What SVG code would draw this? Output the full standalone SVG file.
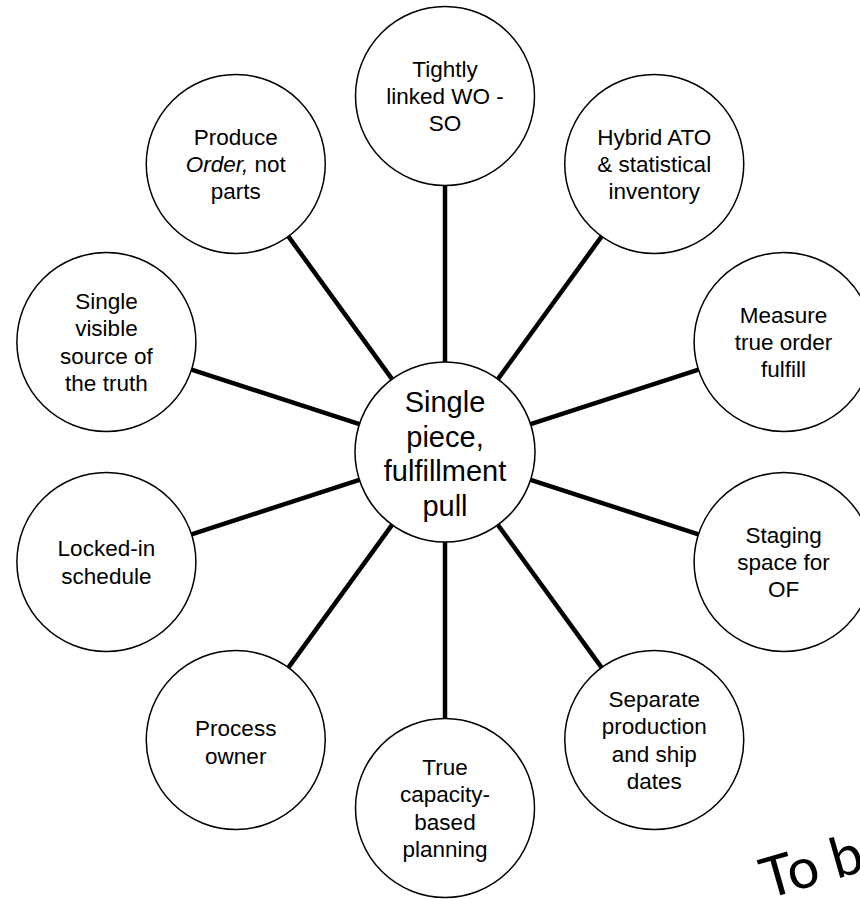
<svg xmlns="http://www.w3.org/2000/svg" width="860" height="899" viewBox="0 0 860 899">
<style>
.node circle{fill:#fff;stroke:#000;stroke-width:1.5}
.node text{font-family:"Liberation Sans",Arial,sans-serif;font-size:22.5px;fill:#000;text-anchor:middle}
#center text{font-size:29px}
.conn line{stroke:#000;stroke-width:4.5}
.note{font-family:Lato,"Open Sans",sans-serif;font-size:56px;fill:#000}
</style>
<rect width="860" height="899" fill="#fff"/>
<g class="conn" id="connectors">
<line x1="445" y1="362" x2="445" y2="185.5"/>
<line x1="497.9" y1="379.19" x2="601.65" y2="236.4"/>
<line x1="530.6" y1="424.19" x2="698.46" y2="369.65"/>
<line x1="530.6" y1="479.81" x2="698.46" y2="534.35"/>
<line x1="497.9" y1="524.81" x2="601.65" y2="667.6"/>
<line x1="445" y1="542" x2="445" y2="718.5"/>
<line x1="392.1" y1="524.81" x2="288.35" y2="667.6"/>
<line x1="359.4" y1="479.81" x2="191.54" y2="534.35"/>
<line x1="359.4" y1="424.19" x2="191.54" y2="369.65"/>
<line x1="392.1" y1="379.19" x2="288.35" y2="236.4"/>
</g>
<g class="node" id="center">
<circle cx="445" cy="452" r="90"/>
<text><tspan x="445" y="412">Single</tspan><tspan x="445" y="446.5">piece,</tspan><tspan x="445" y="481">fulfillment</tspan><tspan x="445" y="515.5">pull</tspan></text>
</g>
<g class="node" id="n-tightly">
<circle cx="445" cy="96" r="89.5"/>
<text><tspan x="445" y="76.6">Tightly</tspan><tspan x="445" y="103.9">linked WO -</tspan><tspan x="445" y="131.2">SO</tspan></text>
</g>
<g class="node" id="n-hybrid">
<circle cx="654.25" cy="164" r="89.5"/>
<text><tspan x="654.25" y="144.6">Hybrid ATO</tspan><tspan x="654.25" y="171.9">&amp; statistical</tspan><tspan x="654.25" y="199.2">inventory</tspan></text>
</g>
<g class="node" id="n-measure">
<circle cx="783.6" cy="342" r="89.5"/>
<text><tspan x="783.6" y="322.6">Measure</tspan><tspan x="783.6" y="349.9">true order</tspan><tspan x="783.6" y="377.2">fulfill</tspan></text>
</g>
<g class="node" id="n-staging">
<circle cx="783.6" cy="562" r="89.5"/>
<text><tspan x="783.6" y="542.6">Staging</tspan><tspan x="783.6" y="569.9">space for</tspan><tspan x="783.6" y="597.2">OF</tspan></text>
</g>
<g class="node" id="n-separate">
<circle cx="654.25" cy="740" r="89.5"/>
<text><tspan x="654.25" y="706.7">Separate</tspan><tspan x="654.25" y="734.2">production</tspan><tspan x="654.25" y="761.7">and ship</tspan><tspan x="654.25" y="789.2">dates</tspan></text>
</g>
<g class="node" id="n-capacity">
<circle cx="445" cy="808" r="89.5"/>
<text><tspan x="445" y="774.7">True</tspan><tspan x="445" y="802.2">capacity-</tspan><tspan x="445" y="829.7">based</tspan><tspan x="445" y="857.2">planning</tspan></text>
</g>
<g class="node" id="n-process">
<circle cx="235.75" cy="740" r="89.5"/>
<text><tspan x="235.75" y="736.4">Process</tspan><tspan x="235.75" y="763.7">owner</tspan></text>
</g>
<g class="node" id="n-locked">
<circle cx="106.4" cy="562" r="89.5"/>
<text><tspan x="106.4" y="556.4">Locked-in</tspan><tspan x="106.4" y="583.7">schedule</tspan></text>
</g>
<g class="node" id="n-single">
<circle cx="106.4" cy="342" r="89.5"/>
<text><tspan x="106.4" y="308.7">Single</tspan><tspan x="106.4" y="336.2">visible</tspan><tspan x="106.4" y="363.7">source of</tspan><tspan x="106.4" y="391.2">the truth</tspan></text>
</g>
<g class="node" id="n-produce">
<circle cx="235.75" cy="164" r="89.5"/>
<text><tspan x="235.75" y="144.6">Produce</tspan><tspan x="235.75" y="171.9"><tspan font-style="italic">Order,</tspan> not</tspan><tspan x="235.75" y="199.2">parts</tspan></text>
</g>
<text class="note" transform="translate(767 899) rotate(-16)">To be</text>
</svg>
